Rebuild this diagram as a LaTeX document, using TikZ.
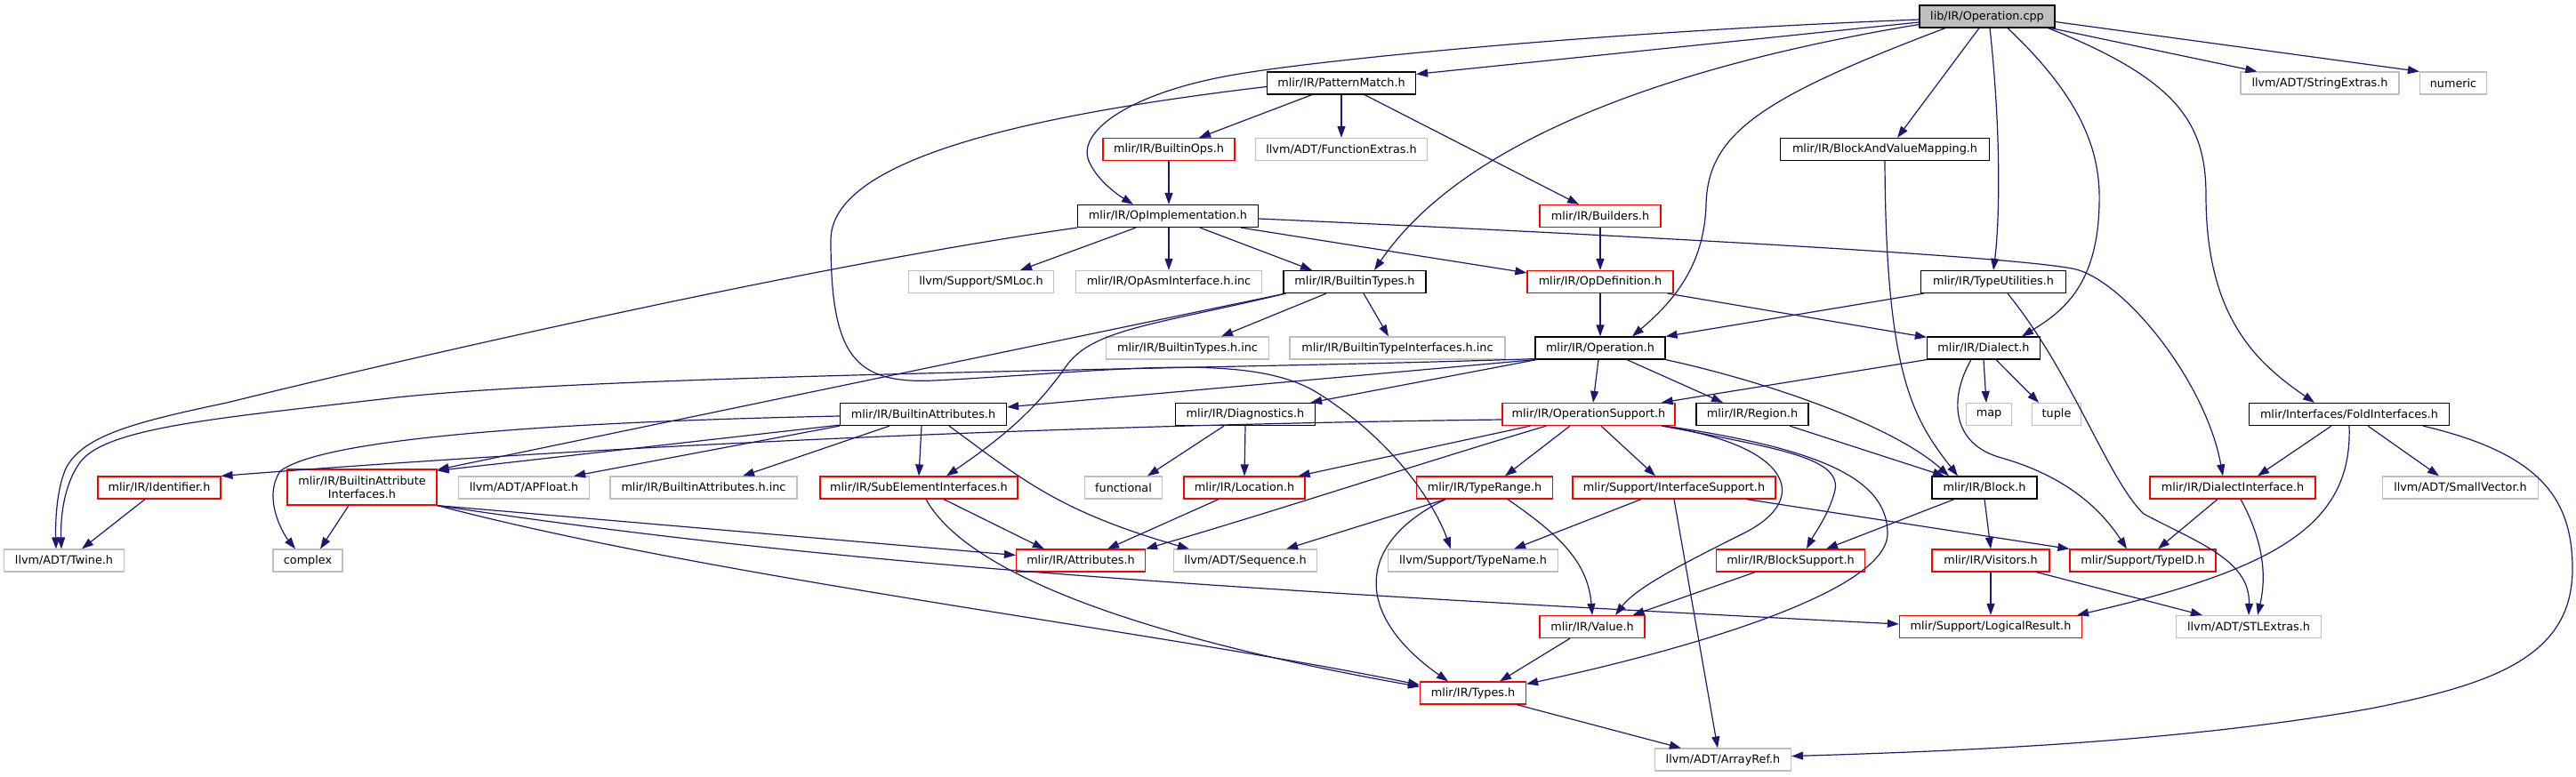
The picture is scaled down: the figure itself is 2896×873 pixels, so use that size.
\documentclass[tikz,border=0pt]{standalone}
\usepackage{fontspec}
\setmainfont{DejaVu Sans}
\usepackage{tikz}
\usetikzlibrary{arrows.meta}

\definecolor{inclblue}{HTML}{191970}
\definecolor{sysgrey}{HTML}{BFBFBF}
\definecolor{cutred}{HTML}{FF0000}

\begin{document}
\begin{tikzpicture}[x=1pt, y=-1pt,
  filebox/.style={rectangle, line width=1.2pt, minimum height=25pt, inner xsep=2pt, inner ysep=0pt,
    font=\fontsize{12.8}{14.6}\selectfont},
  mainfile/.style={filebox, draw=black, fill=sysgrey},
  knownfile/.style={filebox, draw=black},
  cutfile/.style={filebox, draw=cutred},
  sysfile/.style={filebox, draw=sysgrey},
  incl/.style={draw=inclblue, line width=1.2pt, -{Triangle[length=13pt, width=9pt]}}]

\useasboundingbox (0,0) rectangle (2896,873);

\node[mainfile, minimum width=152pt] (cpp) at (2234,18.5) {lib/IR/Operation.cpp};

\node[knownfile, minimum width=167pt] (pm) at (1508,93.5) {mlir/IR/PatternMatch.h};
\node[sysfile, minimum width=178pt] (strx) at (2608,93.5) {llvm/ADT/StringExtras.h};
\node[sysfile, minimum width=75pt] (num) at (2758,93.5) {numeric};

\node[cutfile, minimum width=148pt] (bops) at (1314,168) {mlir/IR/BuiltinOps.h};
\node[sysfile, minimum width=193pt] (fext) at (1508,168) {llvm/ADT/FunctionExtras.h};
\node[knownfile, minimum width=235pt] (bvm) at (2119,168) {mlir/IR/BlockAndValueMapping.h};

\node[knownfile, minimum width=203pt] (opimpl) at (1313,243) {mlir/IR/OpImplementation.h};
\node[cutfile, minimum width=136pt] (bld) at (1799,243) {mlir/IR/Builders.h};

\node[sysfile, minimum width=163pt] (smloc) at (1103,317) {llvm/Support/SMLoc.h};
\node[sysfile, minimum width=209pt] (asminc) at (1314,317) {mlir/IR/OpAsmInterface.h.inc};
\node[knownfile, minimum width=160pt] (btypes) at (1523,317) {mlir/IR/BuiltinTypes.h};
\node[cutfile, minimum width=164pt] (opdef) at (1799,317) {mlir/IR/OpDefinition.h};
\node[knownfile, minimum width=163pt] (tutil) at (2241,317) {mlir/IR/TypeUtilities.h};

\node[sysfile, minimum width=183pt] (btinc) at (1335,391.5) {mlir/IR/BuiltinTypes.h.inc};
\node[sysfile, minimum width=242pt] (btiinc) at (1571,391.5) {mlir/IR/BuiltinTypeInterfaces.h.inc};
\node[knownfile, minimum width=146pt] (oph) at (1799,391.5) {mlir/IR/Operation.h};
\node[knownfile, minimum width=127pt] (dia) at (2230,391.5) {mlir/IR/Dialect.h};

\node[knownfile, minimum width=187pt] (battr) at (1038,466) {mlir/IR/BuiltinAttributes.h};
\node[knownfile, minimum width=157pt] (diag) at (1400,466) {mlir/IR/Diagnostics.h};
\node[cutfile, minimum width=194pt] (opsup) at (1786,466) {mlir/IR/OperationSupport.h};
\node[knownfile, minimum width=126pt] (reg) at (1970,466) {mlir/IR/Region.h};
\node[sysfile, minimum width=51pt] (map) at (2236,466) {map};
\node[sysfile, minimum width=55pt] (tuple) at (2312,466) {tuple};
\node[knownfile, minimum width=225pt] (fold) at (2641,466) {mlir/Interfaces/FoldInterfaces.h};

\node[cutfile, minimum width=138pt] (ident) at (179,548.5) {mlir/IR/Identifier.h};
\node[cutfile, minimum width=168pt, minimum height=40pt, align=center] (baif) at (407,548)
  {mlir/IR/BuiltinAttribute\\Interfaces.h};
\node[sysfile, minimum width=147pt] (apf) at (589,548.5) {llvm/ADT/APFloat.h};
\node[sysfile, minimum width=210pt] (bainc) at (791,548.5) {mlir/IR/BuiltinAttributes.h.inc};
\node[cutfile, minimum width=222pt] (subel) at (1033,548.5) {mlir/IR/SubElementInterfaces.h};
\node[sysfile, minimum width=87pt] (func) at (1263,548.5) {functional};
\node[cutfile, minimum width=136pt] (loc) at (1399,548.5) {mlir/IR/Location.h};
\node[cutfile, minimum width=153pt] (trange) at (1669,548.5) {mlir/IR/TypeRange.h};
\node[cutfile, minimum width=228pt] (isup) at (1882,548.5) {mlir/Support/InterfaceSupport.h};
\node[knownfile, minimum width=118pt] (blk) at (2231,548.5) {mlir/IR/Block.h};
\node[cutfile, minimum width=186pt] (dint) at (2510,548.5) {mlir/IR/DialectInterface.h};
\node[sysfile, minimum width=175pt] (svec) at (2766,548.5) {llvm/ADT/SmallVector.h};

\node[sysfile, minimum width=135pt] (twine) at (72,630.5) {llvm/ADT/Twine.h};
\node[sysfile, minimum width=78pt] (cplx) at (346,630.5) {complex};
\node[cutfile, minimum width=145pt] (attr) at (1215,630.5) {mlir/IR/Attributes.h};
\node[sysfile, minimum width=161pt] (seq) at (1400,630.5) {llvm/ADT/Sequence.h};
\node[sysfile, minimum width=191pt] (tname) at (1656,630.5) {llvm/Support/TypeName.h};
\node[cutfile, minimum width=167pt] (bsup) at (2013,630.5) {mlir/IR/BlockSupport.h};
\node[cutfile, minimum width=132pt] (vis) at (2238,630.5) {mlir/IR/Visitors.h};
\node[cutfile, minimum width=164pt] (tid) at (2409,630.5) {mlir/Support/TypeID.h};

\node[cutfile, minimum width=118pt] (val) at (1790,705) {mlir/IR/Value.h};
\node[cutfile, minimum width=205pt] (lres) at (2238,705) {mlir/Support/LogicalResult.h};
\node[sysfile, minimum width=163pt] (stl) at (2528,705) {llvm/ADT/STLExtras.h};

\node[cutfile, minimum width=119pt] (types) at (1656,779.5) {mlir/IR/Types.h};
\node[sysfile, minimum width=153pt] (aref) at (1937,854.5) {llvm/ADT/ArrayRef.h};

% Operation.cpp
\draw[incl] ([yshift=-3.5pt]cpp.west) .. controls (1800,36) and (1500,66) .. (1400,82)
  .. controls (1270,102) and (1205,150) .. (1226,185)
  .. controls (1236,205) and (1258,220) .. ([xshift=-39pt]opimpl.north);
\draw[incl] ([yshift=-6.5pt]cpp.west) -- ([yshift=-3pt]pm.north east);
\draw[incl] ([yshift=-9pt]cpp.west) .. controls (1900,70) and (1650,150) .. ([xshift=22pt]btypes.north);
\draw[incl] ([xshift=-47pt]cpp.south) .. controls (1980,110) and (1920,150) .. (1918,230)
  .. controls (1916,300) and (1880,340) .. ([xshift=36pt]oph.north);
\draw[incl] ([xshift=-9pt]cpp.south) -- ([xshift=14pt]bvm.north);
\draw[incl] ([xshift=3pt]cpp.south) .. controls (2250,150) and (2248,250) .. (tutil.north);
\draw[incl] ([xshift=23pt]cpp.south) .. controls (2340,110) and (2362,170) .. (2360,230)
  .. controls (2358,320) and (2320,350) .. ([xshift=43pt]dia.north);
\draw[incl] ([xshift=-8pt]cpp.south east) .. controls (2450,90) and (2480,140) .. (2480,220)
  .. controls (2480,360) and (2540,410) .. ([xshift=-39pt]fold.north);
\draw[incl] ([xshift=-5pt]cpp.south east) -- ([xshift=19pt]strx.north west);
\draw[incl] ([yshift=-6pt]cpp.east) -- (num.north west);

% PatternMatch.h, BuiltinOps.h, Builders.h
\draw[incl] ([xshift=-33pt]pm.south) -- ([xshift=34pt]bops.north);
\draw[incl] (pm.south) -- (fext.north);
\draw[incl] ([xshift=26pt]pm.south) -- ([xshift=-24pt]bld.north);
\draw[incl] ([yshift=-4pt]pm.west) .. controls (1150,130) and (934,180) .. (934,270)
  .. controls (934,400) and (960,432) .. (1050,428)
  .. controls (1250,418) and (1400,395) .. (1478,440)
  .. controls (1560,490) and (1610,560) .. ([xshift=-25pt]tname.north);
\draw[incl] (bops.south) -- ([xshift=1pt]opimpl.north);
\draw[incl] (bld.south) -- (opdef.north);

% OpImplementation.h
\draw[incl] ([xshift=-36pt]opimpl.south) -- ([xshift=44pt]smloc.north);
\draw[incl] ([xshift=1pt]opimpl.south) -- (asminc.north);
\draw[incl] ([xshift=36pt]opimpl.south) -- ([xshift=-48pt]btypes.north);
\draw[incl] ([xshift=-20pt]opimpl.south east) -- ([yshift=-3pt]opdef.north west);
\draw[incl] (opimpl.south west) .. controls (900,300) and (420,412) .. (255,453)
  .. controls (150,475) and (95,490) .. (75,525)
  .. controls (65,545) and (62,580) .. ([xshift=-9pt]twine.north);
\draw[incl] ([yshift=-3pt]opimpl.east) .. controls (1900,268) and (2280,290) .. (2334,303)
  .. controls (2390,318) and (2480,430) .. ([xshift=-11pt]dint.north);

% BuiltinTypes.h
\draw[incl] ([xshift=-32pt]btypes.south) -- ([xshift=38pt]btinc.north);
\draw[incl] ([xshift=10pt]btypes.south) -- ([xshift=-10pt]btiinc.north);
\draw[incl] ([xshift=3pt]btypes.south west) -- ([yshift=-1pt]baif.north east);
\draw[incl] ([xshift=3pt]btypes.south west) .. controls (1300,365) and (1230,370) .. (1200,410)
  .. controls (1165,460) and (1130,490) .. ([xshift=31pt]subel.north);

% OpDefinition.h, TypeUtilities.h
\draw[incl] (opdef.south) -- (oph.north);
\draw[incl] ([xshift=-7pt]opdef.south east) -- ([yshift=-1pt]dia.north west);
\draw[incl] ([xshift=4pt]tutil.south west) -- (oph.north east);
\draw[incl] ([xshift=16pt]tutil.south) .. controls (2330,420) and (2370,540) .. (2410,578)
  .. controls (2470,610) and (2530,630) .. (stl.north);

% Operation.h
\draw[incl] (oph.south west) -- ([yshift=-5pt]battr.north east);
\draw[incl] ([yshift=1pt]oph.south west) .. controls (1400,415) and (700,420) .. (446,447)
  .. controls (250,470) and (120,480) .. (90,520)
  .. controls (72,545) and (68,580) .. ([xshift=-3pt]twine.north);
\draw[incl] ([xshift=2pt]oph.south west) -- ([xshift=-6pt]diag.north east);
\draw[incl] ([xshift=-2pt]oph.south) -- ([xshift=5pt]opsup.north);
\draw[incl] ([xshift=30pt]oph.south) -- ([xshift=-33pt]reg.north);
\draw[incl] (oph.south east) .. controls (1990,430) and (2130,480) .. ([xshift=-40pt]blk.north);

% Dialect.h
\draw[incl] (dia.south west) -- ([xshift=-16pt]opsup.north east);
\draw[incl] (dia.south) -- ([xshift=-3pt]map.north);
\draw[incl] ([xshift=14pt]dia.south) -- ([xshift=-20pt]tuple.north);
\draw[incl] ([xshift=-14pt]dia.south) .. controls (2190,450) and (2195,500) .. (2250,515)
  .. controls (2320,535) and (2360,570) .. ([xshift=-18pt]tid.north);

% OperationSupport.h
\draw[incl] ([yshift=-6pt]opsup.west) .. controls (1200,478) and (700,500) .. (ident.north east);
\draw[incl] ([xshift=32pt]opsup.south west) -- ([xshift=-8pt]loc.north east);
\draw[incl] ([xshift=50pt]opsup.south west) .. controls (1600,520) and (1450,570) .. (attr.north east);
\draw[incl] ([xshift=-21pt]opsup.south) -- ([xshift=23pt]trange.north);
\draw[incl] ([xshift=14pt]opsup.south) -- ([xshift=-21pt]isup.north);
\draw[incl] ([xshift=-16pt]opsup.south east) .. controls (2010,500) and (2040,560) .. (1960,600)
  .. controls (1900,630) and (1840,660) .. ([xshift=26pt]val.north);
\draw[incl] ([xshift=-14pt]opsup.south east) .. controls (2000,505) and (2075,515) .. (2062,555)
  .. controls (2055,580) and (2040,600) .. ([xshift=18pt]bsup.north);
\draw[incl] ([xshift=-12pt]opsup.south east) .. controls (2050,505) and (2122,540) .. (2122,600)
  .. controls (2122,665) and (1900,730) .. ([yshift=-3pt]types.north east);

% TypeRange.h, InterfaceSupport.h
\draw[incl] ([xshift=-44pt]trange.south) -- ([xshift=-35pt]seq.north east);
\draw[incl] ([xshift=-44pt]trange.south) .. controls (1525,610) and (1520,690) .. ([xshift=-28pt]types.north);
\draw[incl] ([xshift=26pt]trange.south) .. controls (1750,600) and (1785,630) .. (val.north);
\draw[incl] ([xshift=-37pt]isup.south) -- ([xshift=-50pt]tname.north east);
\draw[incl] ([xshift=-33pt]isup.south east) -- (tid.north west);
\draw[incl] (isup.south) -- ([xshift=-6pt]aref.north);

% BuiltinAttributes.h
\draw[incl] ([yshift=1pt]battr.south west) -- ([yshift=-2pt]baif.north east);
\draw[incl] (battr.south west) -- ([xshift=-18pt]apf.north east);
\draw[incl] ([xshift=-38pt]battr.south) -- ([xshift=44pt]bainc.north);
\draw[incl] ([xshift=-2pt]battr.south) -- (subel.north);
\draw[incl] ([xshift=29pt]battr.south) .. controls (1150,540) and (1190,575) .. ([xshift=18pt]seq.north west);
\draw[incl] ([yshift=-2pt]battr.west) .. controls (600,475) and (360,495) .. (315,530)
  .. controls (295,560) and (318,600) .. ([xshift=-14pt]cplx.north);

% BuiltinAttributeInterfaces.h
\draw[incl] ([xshift=-15pt]baif.south) -- ([xshift=14pt]cplx.north);
\draw[incl] (baif.south east) -- ([yshift=6pt]attr.west);
\draw[incl] (baif.south east) .. controls (900,630) and (1300,660) .. ([yshift=3pt]lres.west);
\draw[incl] (baif.south east) .. controls (800,650) and (1300,710) .. ([yshift=-4pt]types.north west);

% SubElementInterfaces.h, Diagnostics.h, Location.h, Identifier.h
\draw[incl] ([xshift=28pt]subel.south) -- ([xshift=32pt]attr.north west);
\draw[incl] ([xshift=8pt]subel.south) .. controls (1090,650) and (1300,720) .. ([yshift=-6pt]types.north west);
\draw[incl] ([xshift=-24pt]diag.south) -- ([xshift=27pt]func.north);
\draw[incl] (diag.south) -- (loc.north);
\draw[incl] ([xshift=-29pt]loc.south) -- ([xshift=30pt]attr.north);
\draw[incl] ([xshift=-16pt]ident.south) -- ([xshift=20pt]twine.north);

% Region.h, BlockAndValueMapping.h, Block.h
\draw[incl] ([xshift=42pt]reg.south) -- ([xshift=-45pt]blk.north);
\draw[incl] (bvm.south) .. controls (2120,420) and (2150,470) .. ([xshift=-30pt]blk.north);
\draw[incl] ([xshift=-34pt]blk.south) -- ([xshift=40pt]bsup.north);
\draw[incl] (blk.south) -- (vis.north);

% DialectInterface.h, FoldInterfaces.h
\draw[incl] ([xshift=-17pt]dint.south) -- ([xshift=17pt]tid.north);
\draw[incl] ([xshift=9pt]dint.south) .. controls (2540,600) and (2550,640) .. ([xshift=10pt]stl.north);
\draw[incl] ([xshift=-20pt]fold.south) -- ([xshift=28pt]dint.north);
\draw[incl] ([xshift=21pt]fold.south) -- ([xshift=-24pt]svec.north);
\draw[incl] (fold.south) .. controls (2645,590) and (2560,640) .. ([xshift=-6pt]lres.north east);
\draw[incl] ([xshift=-30pt]fold.south east) .. controls (2855,510) and (2892,560) .. (2892,640)
  .. controls (2892,740) and (2800,770) .. (2665,797)
  .. controls (2450,835) and (2200,845) .. ([yshift=4pt]aref.east);

% BlockSupport.h, Value.h, Types.h, Visitors.h
\draw[incl] ([xshift=-40pt]bsup.south) -- ([xshift=-14pt]val.north east);
\draw[incl] ([xshift=-25pt]val.south) -- ([xshift=30pt]types.north);
\draw[incl] ([xshift=-11pt]types.south east) -- ([xshift=30pt]aref.north west);
\draw[incl] (vis.south) -- (lres.north);
\draw[incl] ([xshift=-15pt]vis.south east) -- ([xshift=30pt]stl.north west);

\end{tikzpicture}
\end{document}
